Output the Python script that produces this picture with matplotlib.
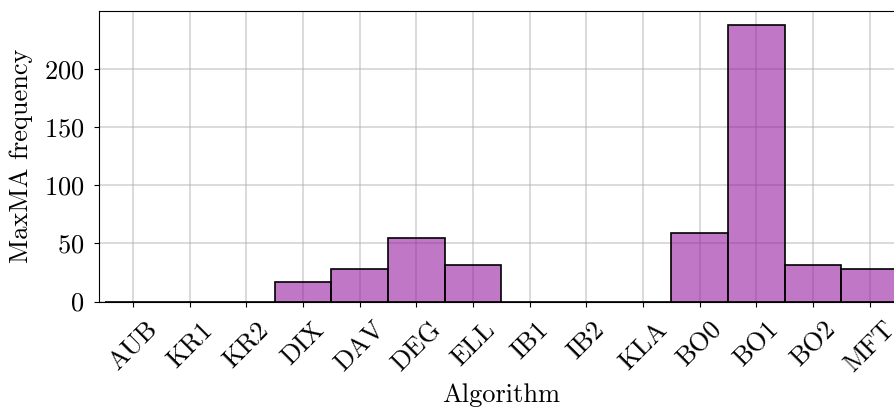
import matplotlib
matplotlib.use("Agg")
import matplotlib.pyplot as plt

algorithms = ["AUB", "KR1", "KR2", "DIX", "DAV", "DEG", "ELL",
              "IB1", "IB2", "KLA", "BO0", "BO1", "BO2", "MFT"]
frequency = [0, 0, 0, 17, 28, 55, 31, 0, 0, 0, 59, 238, 31, 28]

plt.rcParams["font.family"] = "serif"
plt.rcParams["font.serif"] = ["cmr10", "DejaVu Serif"]
plt.rcParams["mathtext.fontset"] = "cm"
plt.rcParams["axes.formatter.use_mathtext"] = True
plt.rcParams["font.size"] = 19

fig = plt.figure(figsize=(8.94, 4.09), dpi=100)
ax = fig.add_axes([0.1107, 0.2628, 0.9003, 0.7102])

x = list(range(len(algorithms)))
ax.bar(x, frequency, width=1.0,
       facecolor=(150 / 255, 30 / 255, 160 / 255, 0.6),
       edgecolor="black", linewidth=1.2)

ax.set_axisbelow(True)
ax.grid(True, alpha=0.5, linewidth=1.3)
ax.set_xticks(x)
ax.set_xticklabels(algorithms, rotation=45)
ax.set_xlim(-0.6, 13.6)
ax.set_ylim(0, 250)
ax.set_yticks([0, 50, 100, 150, 200])
ax.tick_params(axis="y", pad=7)
ax.tick_params(axis="x", pad=8)
ax.set_xlabel("Algorithm", labelpad=4.5)
ax.set_ylabel("MaxMA frequency", labelpad=8)

fig.savefig("out.png", dpi=100)
